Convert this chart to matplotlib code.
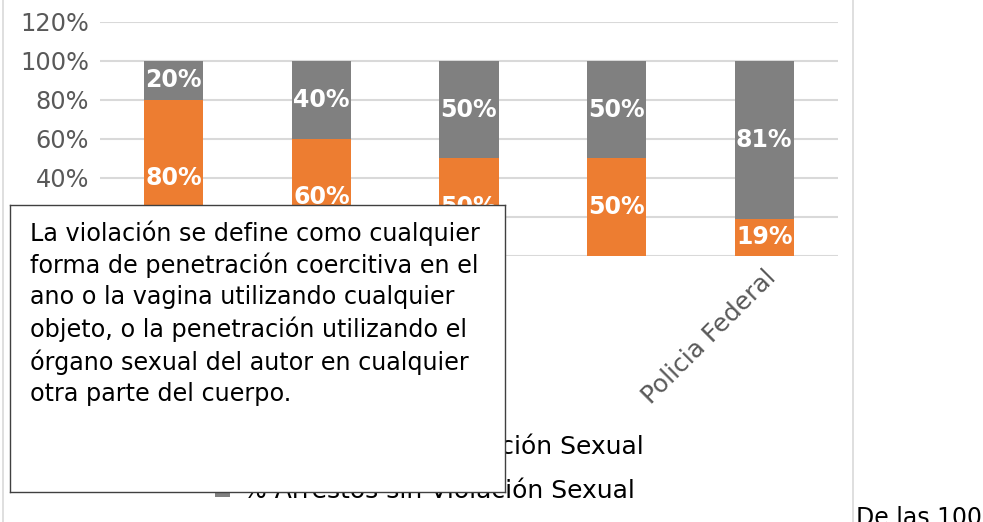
import matplotlib
matplotlib.use("Agg")
import matplotlib.pyplot as plt
import numpy as np
from matplotlib.lines import Line2D

plt.rcParams['font.family'] = ['DejaVu Sans']

categories = ["", "", "", "", "Policia Federal"]
con_violacion = [80, 60, 50, 50, 19]
sin_violacion = [20, 40, 50, 50, 81]
series_names = ["% Arrestos con Violación Sexual", "% Arrestos sin Violación Sexual"]
y_ticks = [0, 20, 40, 60, 80, 100, 120]
note_text = ("La violación se define como cualquier\n"
             "forma de penetración coercitiva en el\n"
             "ano o la vagina utilizando cualquier\n"
             "objeto, o la penetración utilizando el\n"
             "órgano sexual del autor en cualquier\n"
             "otra parte del cuerpo.")
side_text = "De las 100"

ORANGE = "#ED7D31"
GRAY = "#808080"
W, H = 983, 522
fig = plt.figure(figsize=(W / 100, H / 100), dpi=100)

def px(x0, y0, x1, y1):
    return [x0 / W, 1 - y1 / H, (x1 - x0) / W, (y1 - y0) / H]

# chart border lines
fig.add_artist(Line2D([3 / W, 3 / W], [0, 1], color="#D9D9D9", lw=1.2))
fig.add_artist(Line2D([853 / W, 853 / W], [0, 1], color="#D9D9D9", lw=1.2))

ax = fig.add_axes(px(100, 22, 838, 256))
x = np.arange(len(categories))
b1 = ax.bar(x, con_violacion, width=0.4, color=ORANGE, zorder=3, label=series_names[0])
b2 = ax.bar(x, sin_violacion, width=0.4, bottom=con_violacion, color=GRAY, zorder=3, label=series_names[1])
for i in range(len(x)):
    ax.text(x[i], con_violacion[i] / 2, f"{con_violacion[i]}%", ha="center", va="center",
            color="white", fontsize=17, fontweight="bold", zorder=4)
    ax.text(x[i], con_violacion[i] + sin_violacion[i] / 2, f"{sin_violacion[i]}%", ha="center",
            va="center", color="white", fontsize=17, fontweight="bold", zorder=4)
ax.set_xlim(-0.5, len(x) - 0.5)
ax.set_ylim(0, 120)
ax.set_yticks(y_ticks)
ax.set_yticklabels([f"{v}%" for v in y_ticks])
ax.set_xticks(x)
ax.set_xticklabels(categories, rotation=45, ha="right", rotation_mode="anchor")
ax.tick_params(axis="y", length=0, labelsize=17.3, colors="#595959", pad=8)
ax.tick_params(axis="x", length=0, labelsize=17.8, colors="#595959", pad=7)
ax.grid(axis="y", color="#D9D9D9", lw=1.5, zorder=0)
for s in ax.spines.values():
    s.set_visible(False)

leg = fig.legend(handles=[b1, b2], labels=series_names, loc="upper left",
                 bbox_to_anchor=(192 / W, 1 - 413 / H), frameon=False, fontsize=18,
                 handlelength=0.6, handleheight=0.6, handletextpad=0.55, labelspacing=0.78)
for t in leg.get_texts():
    t.set_color("#000000")

# note box
bax = fig.add_axes(px(10, 205, 505, 492), zorder=10)
bax.set_facecolor("white")
bax.set_xticks([])
bax.set_yticks([])
for s in bax.spines.values():
    s.set_color("#404040")
    s.set_linewidth(1)
bax.text(20 / 495, 1 - 15 / 287, note_text, transform=bax.transAxes, ha="left", va="top",
         fontsize=17.2, color="#000000", linespacing=1.36)

fig.text(856 / W, 1 - 506 / H, side_text, ha="left", va="top", fontsize=17, color="#000000")

fig.savefig("out.png", dpi=100)
